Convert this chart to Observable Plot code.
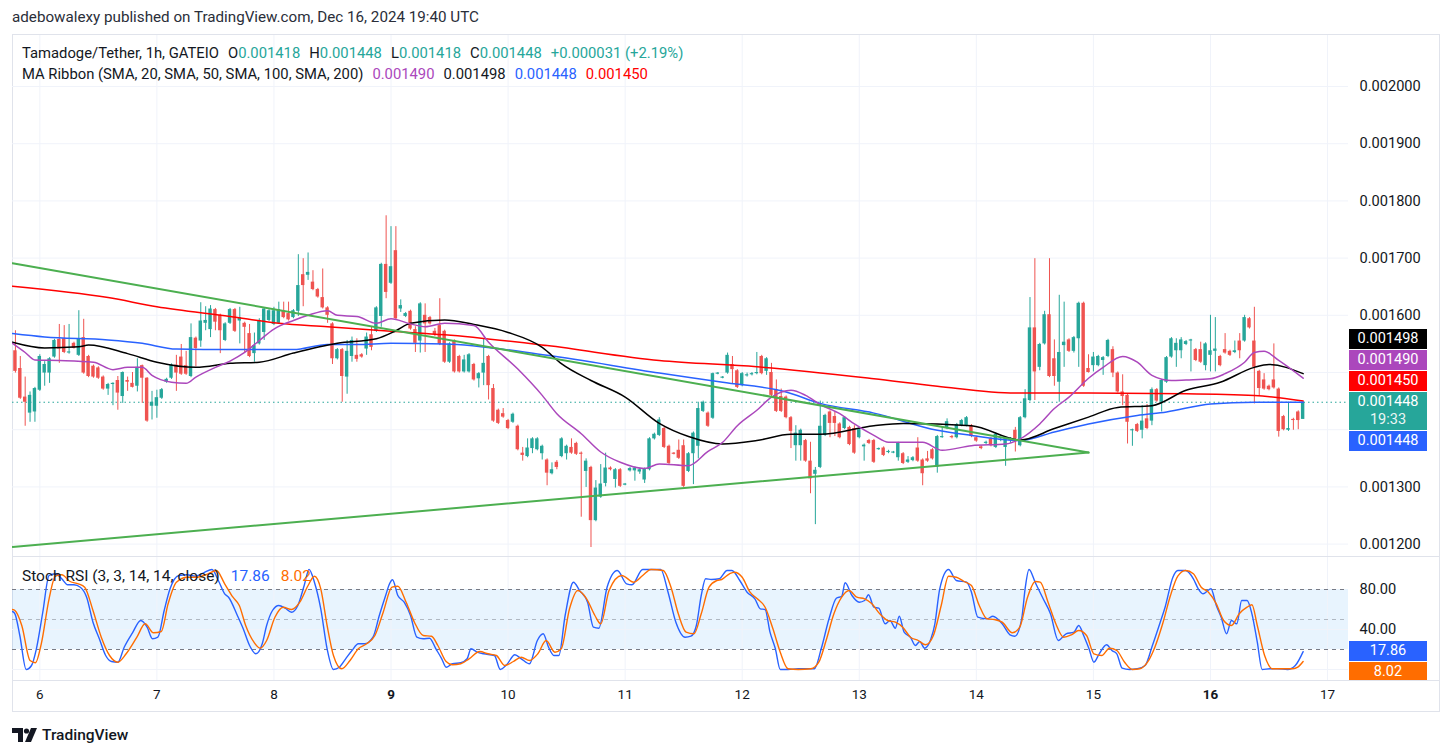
<!DOCTYPE html>
<html><head><meta charset="utf-8">
<script src="https://cdn.jsdelivr.net/npm/d3@7"></script>
<script src="https://cdn.jsdelivr.net/npm/@observablehq/plot@0.6"></script>
<style>
html,body{margin:0;padding:0;background:#fff;}
body{width:1453px;height:756px;position:relative;overflow:hidden;font-family:Roboto,"Liberation Sans",Arial,sans-serif;color:#131722;}
.a{position:absolute;white-space:nowrap;}
.g{color:#26a69a}
.s{margin-left:9px}
.badge{position:absolute;left:1349px;width:78px;height:20px;line-height:20px;text-align:center;color:#fff;font-size:14.5px;overflow:hidden;}
</style></head><body>
<div class="a" style="left:12px;top:8px;font-size:15.2px;line-height:19px;color:#2a2e39">adebowalexy published on TradingView.com, Dec 16, 2024 19:40 UTC</div>
<div class="a" style="left:12px;top:34px;width:1428px;height:678px;border:1px solid #e0e3eb;box-sizing:border-box"></div>
<div id="main" class="a" style="left:12px;top:35px"></div>
<div class="a" style="left:12px;top:556px;width:1428px;height:1px;background:#e0e3eb"></div>
<div id="stoch" class="a" style="left:12px;top:557px"></div>
<div class="a" style="left:12px;top:680px;width:1428px;height:1px;background:#e0e3eb"></div>
<div id="legend1" class="a" style="left:22px;top:44px;font-size:14.8px;line-height:19px"></div>
<div id="legend2" class="a" style="left:22px;top:65px;font-size:14.8px;line-height:19px"></div>
<div id="legend3" class="a" style="left:22px;top:567px;font-size:15.5px;line-height:19px"></div>
<div id="badges"></div>
<div class="a" style="left:12px;top:726px;height:18px;display:flex;align-items:center;gap:4px">
<svg width="26" height="14" viewBox="0 0 26 14"><path d="M0 0h11v14H6V5H0z" fill="#131722"/><circle cx="14.5" cy="3" r="2.6" fill="#131722"/><path d="M19 0h6l-6 14h-6z" fill="#131722"/></svg>
<span style="font-size:15.5px;font-weight:500;color:#131722">TradingView</span></div>
<script>
// ---- data: hourly candles, Tamadoge/Tether (GATEIO), values in millionths of USDT ----
const firstHour = -5; // hours relative to 2024-12-06 00:00 UTC
const candleOpen = [
1538,1507,1457,1429,1431,1469,1499,1499,1527,1558,
1559,1534,1551,1530,1561,1528,1511,1508,1492,1471,
1479,1486,1458,1486,1481,1476,1512,1490,1441,1441,
1455,1483,1490,1513,1527,1512,1493,1560,1555,1586,
1575,1610,1600,1556,1586,1610,1590,1586,1568,1533,
1550,1570,1591,1584,1586,1608,1603,1596,1607,1671,
1670,1658,1645,1631,1613,1585,1524,1540,1492,1528,
1530,1531,1541,1566,1572,1598,1689,1656,1713,1611,
1598,1607,1575,1555,1600,1596,1572,1582,1572,1518,
1556,1528,1501,1501,1514,1489,1499,1528,1472,1434,
1428,1416,1413,1406,1359,1353,1367,1365,1358,1347,
1323,1343,1353,1358,1369,1376,1359,1327,1334,1241,
1282,1306,1333,1313,1330,1303,1328,1328,1326,1312,
1330,1384,1390,1402,1371,1359,1364,1372,1327,1358,
1371,1432,1429,1420,1497,1490,1499,1514,1503,1477,
1494,1496,1498,1528,1502,1500,1470,1458,1457,1421,
1372,1372,1381,1345,1322,1334,1390,1431,1423,1410,
1402,1404,1402,1386,1370,1381,1381,1365,1368,1360,
1359,1351,1358,1343,1346,1368,1347,1349,1365,1334,
1386,1402,1388,1386,1407,1407,1407,1386,1370,1376,
1384,1369,1381,1369,1381,1399,1372,1421,1451,1578,
1509,1550,1601,1524,1483,1547,1557,1537,1559,1621,
1507,1512,1512,1521,1528,1540,1499,1466,1460,1398,
1409,1399,1419,1415,1470,1448,1483,1527,1538,1538,
1549,1555,1540,1540,1512,1530,1537,1528,1540,1537,
1535,1555,1555,1594,1555,1502,1487,1476,1487,1471,
1423,1399,1418,1431,1418];
const candleHigh = [
1573,1528,1492,1466,1474,1531,1519,1526,1558,1584,
1582,1584,1553,1608,1593,1530,1513,1510,1494,1481,
1482,1493,1501,1492,1500,1524,1513,1491,1467,1469,
1472,1490,1515,1530,1549,1537,1585,1562,1622,1615,
1617,1612,1602,1587,1612,1612,1614,1588,1584,1569,
1594,1613,1610,1614,1623,1623,1623,1610,1706,1699,
1709,1678,1647,1681,1615,1587,1542,1542,1556,1562,
1559,1533,1569,1580,1615,1691,1774,1755,1755,1627,
1605,1609,1580,1622,1620,1598,1577,1629,1574,1552,
1557,1530,1530,1533,1516,1500,1559,1530,1479,1436,
1437,1418,1429,1408,1369,1384,1386,1386,1373,1349,
1342,1346,1386,1373,1384,1378,1361,1349,1336,1311,
1339,1359,1335,1332,1332,1306,1334,1335,1333,1333,
1386,1394,1421,1404,1373,1360,1382,1382,1360,1396,
1448,1450,1431,1499,1500,1493,1534,1528,1505,1500,
1499,1500,1535,1530,1526,1516,1487,1471,1459,1423,
1407,1401,1383,1378,1334,1450,1427,1433,1431,1412,
1423,1406,1407,1402,1375,1383,1383,1368,1370,1364,
1362,1378,1360,1353,1353,1386,1349,1362,1367,1390,
1404,1419,1390,1411,1418,1423,1409,1388,1372,1380,
1386,1394,1385,1388,1386,1404,1423,1470,1631,1699,
1551,1607,1699,1557,1635,1623,1559,1563,1623,1623,
1531,1535,1530,1528,1558,1545,1501,1496,1462,1401,
1411,1442,1444,1473,1472,1488,1528,1561,1559,1561,
1556,1558,1542,1553,1552,1600,1596,1530,1568,1539,
1555,1568,1600,1596,1614,1504,1498,1478,1550,1473,
1425,1448,1420,1433,1448];
const candleLow = [
1499,1453,1406,1413,1413,1467,1476,1481,1525,1516,
1533,1532,1541,1528,1497,1491,1490,1488,1469,1460,
1442,1434,1446,1467,1473,1466,1446,1413,1417,1420,
1453,1481,1488,1467,1495,1495,1491,1510,1544,1573,
1561,1573,1533,1554,1584,1570,1550,1535,1526,1518,
1548,1556,1589,1582,1584,1594,1590,1594,1598,1615,
1661,1643,1630,1611,1586,1514,1522,1448,1462,1518,
1518,1525,1530,1538,1570,1579,1629,1654,1592,1605,
1596,1574,1535,1534,1535,1583,1563,1547,1516,1516,
1499,1499,1499,1499,1485,1473,1477,1452,1413,1409,
1420,1400,1411,1363,1345,1351,1358,1363,1347,1302,
1321,1330,1351,1347,1357,1355,1247,1299,1194,1239,
1280,1300,1328,1298,1299,1302,1326,1310,1322,1306,
1328,1382,1388,1367,1339,1356,1348,1299,1325,1304,
1349,1430,1404,1418,1496,1489,1497,1479,1472,1475,
1492,1494,1496,1496,1495,1458,1430,1430,1419,1367,
1345,1345,1343,1288,1234,1332,1388,1386,1388,1384,
1400,1372,1357,1384,1345,1374,1341,1364,1353,1358,
1358,1345,1339,1341,1344,1343,1302,1343,1347,1324,
1385,1400,1384,1384,1405,1405,1386,1378,1365,1374,
1370,1367,1379,1336,1376,1361,1370,1419,1449,1451,
1503,1548,1491,1476,1448,1509,1535,1534,1509,1474,
1499,1501,1510,1495,1526,1491,1464,1442,1375,1371,
1395,1384,1400,1407,1448,1431,1481,1525,1509,1524,
1547,1501,1519,1516,1503,1501,1501,1510,1532,1528,
1533,1524,1553,1576,1445,1458,1469,1468,1471,1387,
1398,1397,1399,1400,1418];
const candleClose = [
1502,1455,1448,1460,1472,1528,1514,1524,1556,1541,
1535,1536,1542,1559,1499,1493,1492,1490,1471,1479,
1481,1464,1500,1483,1474,1509,1490,1415,1448,1456,
1470,1488,1513,1499,1497,1497,1561,1542,1590,1591,
1611,1588,1573,1585,1610,1572,1596,1579,1528,1547,
1591,1611,1608,1608,1610,1596,1592,1608,1652,1652,
1675,1645,1632,1613,1600,1524,1540,1493,1537,1556,
1523,1527,1562,1544,1613,1689,1640,1685,1594,1617,
1603,1576,1551,1620,1585,1585,1566,1549,1518,1550,
1501,1501,1522,1531,1487,1498,1516,1477,1415,1411,
1422,1402,1427,1365,1355,1368,1384,1384,1371,1324,
1330,1334,1384,1371,1359,1357,1357,1345,1241,1298,
1305,1333,1330,1330,1301,1305,1332,1333,1330,1331,
1384,1392,1417,1369,1341,1357,1350,1301,1358,1394,
1437,1448,1406,1498,1499,1492,1530,1505,1474,1498,
1496,1498,1500,1498,1524,1460,1432,1432,1421,1397,
1394,1399,1345,1314,1329,1406,1425,1411,1411,1386,
1421,1374,1359,1400,1373,1376,1343,1367,1355,1362,
1361,1376,1341,1347,1351,1345,1323,1345,1349,1388,
1388,1414,1386,1409,1416,1421,1388,1380,1367,1378,
1372,1392,1383,1386,1384,1384,1421,1454,1578,1501,
1549,1601,1493,1493,1535,1553,1537,1561,1621,1476,
1500,1527,1528,1526,1556,1499,1466,1458,1413,1400,
1397,1415,1402,1470,1450,1486,1526,1559,1551,1557,
1554,1557,1521,1518,1550,1538,1541,1512,1534,1530,
1538,1538,1596,1578,1509,1472,1471,1470,1473,1397,
1400,1402,1416,1416,1448];

// MA Ribbon samples: [hour, value]
const sma20 = [[-5.6,1551],[-3,1535],[-1,1522],[4,1521],[11,1518],[15,1505],[18,1509],[21,1509],[23,1495],[27,1483],[30,1481],[32,1492],[36,1509],[39,1520],[42,1535],[45,1556],[48,1576],[52,1591],[55,1600],[59,1608],[61,1600],[65,1598],[69,1586],[72,1594],[76,1585],[79,1580],[83,1586],[89,1582],[92,1553],[98,1506],[103,1460],[106,1428],[111,1393],[115,1361],[119,1343],[124,1332],[127,1340],[133,1337],[137,1362],[140,1378],[143,1407],[147,1434],[150,1457],[154,1469],[157,1460],[160,1444],[164,1428],[167,1410],[171,1390],[174,1378],[181,1378],[185,1364],[191,1372],[198,1375],[201,1384],[205,1410],[208,1437],[211,1457],[215,1490],[218,1509],[222,1528],[225,1518],[228,1495],[232,1486],[235,1487],[240,1489],[243,1498],[247,1518],[249,1535],[251,1537],[254,1521],[259,1490]];
const sma50 = [[-5.6,1553],[1,1543],[8,1545],[10,1548],[18,1533],[24,1518],[32,1509],[39,1516],[45,1518],[52,1534],[61,1551],[69,1559],[73,1573],[76,1586],[83,1592],[89,1584],[96,1570],[103,1544],[107,1515],[113,1486],[120,1457],[127,1411],[133,1388],[140,1375],[147,1381],[154,1392],[160,1392],[171,1407],[177,1411],[191,1407],[201,1382],[208,1402],[215,1422],[221,1439],[228,1442],[235,1469],[242,1483],[249,1509],[252,1514],[259,1498]];
const sma100 = [[-5.6,1568],[1,1562],[14,1557],[21,1551],[28,1541],[39,1540],[52,1540],[59,1549],[65,1549],[72,1551],[83,1550],[104,1530],[127,1499],[140,1483],[153,1466],[160,1446],[171,1429],[184,1399],[191,1390],[201,1381],[208,1396],[215,1410],[225,1425],[231,1431],[240,1445],[249,1448],[259,1448]];
const sma200 = [[-5.6,1651],[14,1631],[24,1615],[39,1598],[49,1586],[59,1580],[72,1572],[83,1566],[104,1547],[127,1521],[147,1510],[171,1489],[184,1476],[200,1464],[215,1464],[235,1463],[249,1460],[259,1450]];
// triangle drawing
const trendUpper = [[-5.6,1691],[215,1360]];
const trendLower = [[-5.6,1195],[215,1360]];
// Stoch RSI (3,3,14,14): [hour, value]
const stochK = [[-5.6,58],[-5.1,55.7],[-4.1,34],[-2.8,0],[-1.7,4],[-0.7,20.7],[0.6,57],[1.9,94],[3.2,95.7],[4.5,90.7],[5.7,84.7],[7,84.7],[8.3,82.3],[9.6,72.3],[10.9,47.3],[12.2,30.7],[13.5,14],[14.7,8],[16,7.3],[17.3,22.3],[19,36.7],[20.7,49],[22,42.3],[23.1,30.7],[24.2,32.3],[25.5,59],[26.7,80.7],[28.5,94],[30.2,94.7],[31.9,93.3],[33.6,96.7],[35.3,100],[36.6,89],[37.9,75.7],[38.7,72.3],[40.5,54],[41.7,40.7],[43,24],[44.3,15.7],[45.6,25.7],[46.5,44],[47.7,59],[49,64],[50.3,61.3],[51.6,57.3],[52.9,64],[54.2,84],[55.2,100],[56.3,87.3],[57.6,60.7],[58.9,20.7],[60.2,0],[61.4,2.3],[62.7,10.7],[64,19],[65.3,25.7],[66.6,25.7],[68.3,32.3],[69.6,54],[70.9,74],[71.7,85.7],[72.3,89.7],[73.4,74],[74.7,67.3],[76,54],[77.3,32.3],[78.6,30.7],[79.9,31.3],[81.2,20.7],[82.4,10.7],[83.3,2.3],[84.6,5.7],[86.3,6.7],[87.6,10.7],[88.4,20.7],[89.7,17.3],[91,15.7],[93.2,14],[94.4,0],[95.7,4.7],[97.4,14.7],[98.7,10.7],[100.4,5.7],[102,29],[103.2,35.7],[104.3,22.3],[105.4,14],[106.4,14],[107.7,54],[109.4,87.3],[110.7,78.7],[112.3,67.3],[113.5,42.3],[114.6,41.3],[116.3,82.3],[118.4,99],[120.3,85.7],[121.4,84.7],[123.6,100],[126.2,100],[127.3,100],[128.8,77.3],[130.4,47.3],[132.3,32.3],[133.5,33.3],[134.6,44],[135.6,74],[136.5,90.7],[137.7,90],[139.3,90.7],[140.9,99],[141.9,99],[143.5,89],[145,77.3],[146.6,70.7],[147.7,60.7],[148.7,60],[149.7,37.3],[150.8,20.7],[151.8,0],[153.4,0],[155.5,0.7],[157.6,0.7],[158.8,0.7],[160.2,20.7],[161.8,50.7],[163.3,71.3],[164.4,73.3],[165.1,86.7],[166.5,74],[168,67.3],[169.1,69],[169.9,74.7],[171,62.3],[172,61.3],[173.3,45.7],[174.3,49],[175.4,41.3],[176.2,53.3],[177.2,37.3],[178.5,32.3],[179.5,24],[180.4,28],[181.4,21.3],[182.7,30.7],[183.5,45.7],[184.5,80.7],[186.3,100],[187.9,89],[190,87.3],[191,77.3],[192.3,52.3],[194.2,50.7],[195.4,53.3],[197.3,45.7],[198.9,34.7],[199.9,33.3],[201.3,50.7],[202,80.7],[202.8,100],[204.1,86.7],[205.7,70.7],[207.2,55.7],[208.8,29],[210.4,35.7],[212,37.3],[213,44],[214,34],[215.1,20.7],[216.1,7.3],[217.2,15.7],[218.7,24.7],[219.8,19],[220.8,15.7],[221.9,1.3],[223.4,0],[225,0.7],[226.6,4],[228.1,24],[229.7,47.3],[230.7,62.3],[232.3,92.3],[233.3,99],[234.9,99],[236.5,90.7],[237.5,80.7],[238.5,75.7],[240.1,80.7],[241.2,64],[242.2,52.3],[243.3,35.7],[244.3,49],[245.4,45.7],[246.4,69],[247.5,69],[248.5,55.7],[249.6,27.3],[250.6,0],[252.2,0.7],[253.7,0.7],[255.8,0],[257.4,4],[259,17.86]];
const stochD = [[-5.6,60],[-5.1,59],[-3.7,44],[-2,9],[-0.9,6.7],[0.3,25.7],[1.9,70.7],[3.2,93.3],[4.5,94.7],[6.2,88],[7.9,85.7],[9.2,82.3],[10.9,59],[12.6,32.3],[14.3,14],[16,7.3],[17.7,15.7],[19.9,32.3],[21.6,45.7],[23.3,36.7],[24.9,38],[26.3,65.7],[28,87.3],[30.2,92.3],[32.3,92.3],[34.5,95.7],[36.2,99],[37.9,85.7],[39.6,72.3],[40.9,64],[42.2,44],[43.9,27.3],[45.2,21.3],[46.5,29],[48.2,52.3],[49.9,62.3],[51.6,60],[53.3,67.3],[55,84],[56.3,93.3],[57.6,80.7],[58.9,44],[60.2,14],[61.9,0.7],[63.6,9],[65.3,20.7],[67,25.7],[68.7,34],[70.4,57.3],[72.2,82.3],[73.4,83.3],[75.1,67.3],[76.8,47.3],[78.6,34],[80.3,33.3],[81.6,24],[83.3,8],[84.6,4.7],[86.3,5.7],[88,10.7],[90.2,18],[91.9,15.7],[93.6,14],[95.3,4],[97.1,8],[98.7,12.3],[100.4,9],[102.1,15.7],[103.8,29],[105.6,17.3],[106.9,20.7],[108.6,60.7],[110.3,79],[112.1,70.7],[113.8,54],[115,45.7],[116.7,79],[119.3,94],[121.8,87.3],[123.6,94],[125.3,100],[127.8,99],[129.4,82.3],[130.9,55.7],[132.5,37.3],[134.1,35.7],[135.6,55.7],[137.2,82.3],[138.8,89],[139.8,90],[141.4,95.7],[142.4,97.3],[144,92.3],[145.6,77.3],[147.1,70.7],[148.7,62.3],[150.3,40.7],[151.8,17.3],[153.4,0.7],[155.5,0],[158.1,0.7],[159.7,7.3],[161.2,29],[162.8,55.7],[164.4,72.3],[165.9,79],[167.5,72.3],[169.1,70.7],[170.6,65.7],[172.2,55.7],[173.8,49],[175.4,47.3],[176.9,42.3],[178.5,32.3],[180.1,29],[181.6,24.7],[183.2,34],[184.8,64],[186.3,93.3],[187.9,92.3],[189.5,88],[191,84],[192.6,64],[194.2,50.7],[195.7,50],[197.3,47.3],[199.4,36.7],[200.9,42.3],[202.5,72.3],[204.1,88],[205.1,87.3],[206.7,67.3],[208.3,45.7],[209.9,32.3],[211.5,34.7],[213,39],[214.6,34],[216.1,15.7],[217.7,14],[219.3,21.3],[220.8,19],[222.4,7.3],[224,0],[225.5,0.7],[227.1,7.3],[228.6,22.3],[230.2,45.7],[231.8,74],[233.3,93.3],[234.9,99],[236.5,95.7],[238.1,82.3],[239.6,77.3],[241.2,65.7],[242.7,49],[244.3,44],[245.9,55.7],[247.5,62.3],[248.5,64.7],[249.6,44],[251.1,14],[252.7,0.7],[254.8,0.7],[256.9,0.7],[257.9,2.3],[259,8.02]];
const priceGrid = [1200,1300,1400,1500,1600,1700,1800,1900,2000];
const priceLabels = [1200,1300,1600,1700,1800,1900,2000]; // 0.001400/0.001500 are hidden by the price badges
const dayLabels = [6,7,8,9,10,11,12,13,14,15,16,17];
const boldDays = [9,16];
const stochLevels = [20,50,80];
const stochTicks = [40,80];
const maValues = [1490,1498,1448,1450];

// ---- drawing ----
const font = "Roboto, 'Liberation Sans', Arial, sans-serif";
const up = "#26a69a", dn = "#ef5350";
const xDom = [-5.6, 268.3];
const dayHours = dayLabels.map(d => (d - 6) * 24);
const candles = candleOpen.map((o, i) => ({t: firstHour + i, o, h: candleHigh[i], l: candleLow[i], c: candleClose[i]}));
const last = candles[candles.length - 1];
const col = d => d.c >= d.o ? up : dn;
const fmtP = v => (v / 1e6).toFixed(6);
const lineOpts = (stroke, w) => ({x: d => d[0], y: d => d[1], stroke, strokeWidth: w, curve: "monotone-x", clip: true});

const main = Plot.plot({
  width: 1428, height: 521, marginTop: 0, marginBottom: 0, marginLeft: 0, marginRight: 92,
  x: {domain: xDom, axis: null},
  y: {domain: [1178.3, 2089.2], axis: null},
  style: {fontFamily: font, fontSize: "14.6px", color: "#131722", background: "transparent", overflow: "visible"},
  marks: [
    Plot.ruleX(dayHours, {stroke: "#f0f3fa"}),
    Plot.ruleY(priceGrid, {stroke: "#f0f3fa"}),
    Plot.axisY(priceLabels, {anchor: "right", tickSize: 0, tickPadding: 11, tickFormat: fmtP, fill: "#131722"}),
    Plot.ruleY([last.c], {stroke: up, strokeDasharray: "1.5,3"}),
    Plot.ruleX(candles, {x: "t", y1: "l", y2: "h", stroke: col, strokeWidth: 1}),
    Plot.rect(candles, {x1: d => d.t - 0.35, x2: d => d.t + 0.35, y1: "o", y2: "c", fill: col}),
    Plot.line(sma200, lineOpts("#ff0000", 1.5)),
    Plot.line(sma100, lineOpts("#2962ff", 1.5)),
    Plot.line(sma50, lineOpts("#000000", 1.5)),
    Plot.line(sma20, lineOpts("#ab47bc", 1.5)),
    Plot.line(trendUpper, {x: d => d[0], y: d => d[1], stroke: "#4caf50", strokeWidth: 2, clip: true}),
    Plot.line(trendLower, {x: d => d[0], y: d => d[1], stroke: "#4caf50", strokeWidth: 2, clip: true})
  ]
});
document.getElementById("main").appendChild(main);

const normalDayHours = dayLabels.filter(d => !boldDays.includes(d)).map(d => (d - 6) * 24);
const boldDayHours = boldDays.map(d => (d - 6) * 24);
const stoch = Plot.plot({
  width: 1428, height: 155, marginTop: 0, marginBottom: 31, marginLeft: 0, marginRight: 92,
  x: {domain: xDom, axis: null},
  y: {domain: [-12, 112], axis: null},
  style: {fontFamily: font, fontSize: "14.6px", color: "#131722", background: "transparent", overflow: "visible"},
  marks: [
    Plot.rect([stochLevels], {x1: xDom[0], x2: xDom[1], y1: d => d[0], y2: d => d[2], fill: "#2196f3", fillOpacity: 0.1}),
    Plot.ruleX(dayHours, {stroke: "#f0f3fa"}),
    Plot.ruleY([0, 40], {stroke: "#f0f3fa"}),
    Plot.ruleY([stochLevels[0], stochLevels[2]], {stroke: "#787b86", strokeDasharray: "4,4"}),
    Plot.ruleY([stochLevels[1]], {stroke: "#787b86", strokeOpacity: 0.5, strokeDasharray: "4,4"}),
    Plot.axisY(stochTicks, {anchor: "right", tickSize: 0, tickPadding: 11, tickFormat: d => d.toFixed(2), fill: "#131722"}),
    Plot.axisX(normalDayHours, {anchor: "bottom", tickSize: 0, tickPadding: 8, tickFormat: t => 6 + t / 24, fill: "#131722", fontSize: 13.5}),
    Plot.axisX(boldDayHours, {anchor: "bottom", tickSize: 0, tickPadding: 8, tickFormat: t => 6 + t / 24, fill: "#131722", fontSize: 13.5, fontWeight: "bold"}),
    Plot.line(stochK, lineOpts("#2962ff", 1.4)),
    Plot.line(stochD, lineOpts("#ff6d00", 1.4))
  ]
});
document.getElementById("stoch").appendChild(stoch);

// legends
document.getElementById("legend1").innerHTML =
  `Tamadoge/Tether, 1h, GATEIO<span class="s">O</span><span class="g">${fmtP(last.o)}</span><span class="s">H</span><span class="g">${fmtP(last.h)}</span><span class="s">L</span><span class="g">${fmtP(last.l)}</span><span class="s">C</span><span class="g">${fmtP(last.c)}</span><span class="g s">+0.000031 (+2.19%)</span>`;
const maCols = ["#ab47bc", "#131722", "#2962ff", "#ff0000"];
document.getElementById("legend2").innerHTML =
  `MA Ribbon (SMA, 20, SMA, 50, SMA, 100, SMA, 200)` + maValues.map((v, i) => `<span class="s" style="color:${maCols[i]}">${fmtP(v)}</span>`).join("");
const kLast = stochK[stochK.length - 1][1], dLast = stochD[stochD.length - 1][1];
document.getElementById("legend3").innerHTML =
  `Stoch RSI (3, 3, 14, 14, close)<span style="color:#2962ff;margin-left:11px">${kLast.toFixed(2)}</span><span style="color:#ff6d00;margin-left:11px">${dLast.toFixed(2)}</span>`;

// price badges (stacked like TradingView)
const ys = main.scale("y"), ss = stoch.scale("y");
const tealTop = Math.round(35 + ys.apply(last.c) - 10);
const B = document.getElementById("badges");
function badge(top, bg, html, h = 20) {
  const d = document.createElement("div");
  d.className = "badge"; d.style.top = top + "px"; d.style.background = bg; d.style.height = h + "px";
  d.innerHTML = html; B.appendChild(d);
}
badge(tealTop - 63, "#000000", fmtP(maValues[1]));
badge(tealTop - 42, "#ab47bc", fmtP(maValues[0]));
badge(tealTop - 21, "#ff0000", fmtP(maValues[3]));
badge(tealTop, up, `<div style="line-height:19px;height:19px">${fmtP(last.c)}</div><div style="line-height:18px;height:18px;opacity:.9">19:33</div>`, 38);
badge(tealTop + 39, "#2962ff", fmtP(maValues[2]));
const kTop = Math.round(557 + ss.apply(kLast) - 10);
badge(kTop, "#2962ff", kLast.toFixed(2));
badge(kTop + 21, "#ff6d00", dLast.toFixed(2), 680 - (kTop + 21));
</script>
</body></html>
